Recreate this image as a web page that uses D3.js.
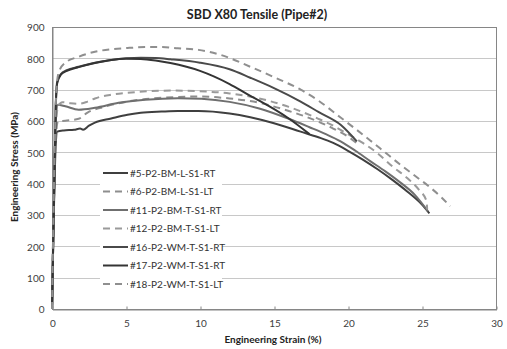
<!DOCTYPE html>
<html>
<head>
<meta charset="utf-8">
<script src="https://cdn.jsdelivr.net/npm/d3@7"></script>
<style>
  html, body { margin: 0; padding: 0; background: #fff; }
  svg { display: block; }
  text { font-family: Lato, "Open Sans", sans-serif; }
</style>
</head>
<body>
<div id="chart"></div>
<script>
// Tensile curves, strain (%) vs engineering stress (MPa)
const seriesNames = [
  "#5-P2-BM-L-S1-RT", "#6-P2-BM-L-S1-LT", "#11-P2-BM-T-S1-RT", "#12-P2-BM-T-S1-LT",
  "#16-P2-WM-T-S1-RT", "#17-P2-WM-T-S1-RT", "#18-P2-WM-T-S1-LT"
];

const s5 = [[0,0],[0.25,520],[0.35,566],[0.8,570],[1.5,572],[1.9,576],[2.1,572],[2.5,585],[2.9,595],[4,608],[5.1,620],[6,626],[7.4,630],[8.5,632],[9.9,632],[12,624],[13.4,612],[15,593],[16.8,566],[18,548],[19,530],[20,505],[21,477],[22,446],[23,412],[24,375],[25,333],[25.5,305]];
const s6 = [[0,0],[0.25,540],[0.4,598],[0.9,601],[1.8,607],[2.4,627],[3.6,646],[5.1,662],[7.4,674],[9.9,678],[12,672],[14,658],[16,632],[18,598],[19,576],[20,550],[20.8,522]];
const s11 = [[0,0],[0.25,590],[0.4,652],[0.9,647],[1.8,636],[2.9,642],[4.5,658],[6.3,668],[8.5,673],[10.1,671],[12,661],[14,640],[16,607],[17.4,580],[18.5,558],[19.5,535],[20.5,505],[21.5,472],[22.5,440],[23.5,405],[24.5,365],[25.4,312]];
const s12 = [[0,0],[0.25,590],[0.45,650],[0.7,660],[1.2,657],[1.8,655],[2.4,662],[2.9,672],[4,684],[5.1,690],[6.5,695],[8.1,697],[9.9,695],[12,688],[14,672],[16,645],[18,607],[19,585],[20,558],[21,530],[22,497],[23,455],[24,418],[24.8,380],[25.3,345],[25.35,318]];
const s16 = [[0,0],[0.25,650],[0.35,725],[0.6,750],[1,762],[1.8,773],[2.9,786],[4,795],[5,800],[6,802],[7,801],[8,797],[10,786],[12,765],[13.4,738],[15,705],[16.8,662],[18,629],[19.5,588],[20.6,535]];
const s17 = [[0,0],[0.25,640],[0.35,720],[0.6,748],[1,760],[1.8,772],[2.9,785],[4,795],[5,799],[6,798],[7,793],[8,785],[10,760],[12,718],[13.4,680],[14,665],[16,608],[17.4,558]];
const s18 = [[0,0],[0.3,700],[0.45,755],[0.9,786],[1.8,805],[2.9,821],[4,829],[5.1,833],[6.5,836],[7.4,836],[8.5,832],[9.9,827],[11.4,811],[13.4,773],[15,740],[16.8,700],[18,665],[19.5,611],[20.5,575],[21.5,538],[22.5,500],[23.5,462],[24.5,426],[25.5,390],[26.3,357],[26.9,328]];

const seriesValues = [s5, s6, s11, s12, s16, s17, s18];
const seriesColors = ["#3f3f3f", "#8e8e8e", "#6f6f6f", "#9a9a9a", "#4a4a4a", "#343434", "#8f8f8f"];
const seriesDashed = [false, true, false, true, false, false, true];

const xTicks = [0, 5, 10, 15, 20, 25, 30];
const yTicks = [0, 100, 200, 300, 400, 500, 600, 700, 800, 900];

const W = 507, H = 349;
const plot = { left: 52, right: 496, top: 27, bottom: 309 };

const svg = d3.select("#chart").append("svg").attr("width", W).attr("height", H);

const x = d3.scaleLinear().domain([0, 30]).range([plot.left, plot.right]);
const y = d3.scaleLinear().domain([0, 900]).range([plot.bottom, plot.top]);

// horizontal gridlines
svg.append("g").selectAll("line").data(yTicks.slice(1, -1)).join("line")
  .attr("x1", plot.left).attr("x2", plot.right)
  .attr("y1", d => Math.round(y(d)) + 0.5).attr("y2", d => Math.round(y(d)) + 0.5)
  .attr("stroke", "#c8c8c8").attr("stroke-width", 1);

// plot frame
svg.append("rect")
  .attr("x", plot.left + 0.5).attr("y", plot.top + 0.5)
  .attr("width", plot.right - plot.left).attr("height", plot.bottom - plot.top)
  .attr("fill", "none").attr("stroke", "#868686").attr("stroke-width", 1);

// y axis
const yAxis = svg.append("g").attr("transform", `translate(${plot.left + 0.5},0.5)`)
  .call(d3.axisLeft(y).tickValues(yTicks).tickSize(0).tickPadding(8));
yAxis.select(".domain").attr("stroke", "#868686");
yAxis.selectAll("text").attr("font-size", 10).attr("fill", "#404040")
  .attr("font-family", "Lato, sans-serif");

// x axis, ticks pointing up into the plot
const xAxis = svg.append("g").attr("transform", `translate(0.5,${plot.bottom + 0.5})`)
  .call(d3.axisBottom(x).tickValues(xTicks).tickSizeInner(-3).tickSizeOuter(0).tickPadding(10));
xAxis.select(".domain").attr("stroke", "#868686");
xAxis.selectAll(".tick line").attr("stroke", "#868686");
xAxis.selectAll("text").attr("font-size", 10).attr("fill", "#404040")
  .attr("font-family", "Lato, sans-serif");

// curves
const line = d3.line().x(d => x(d[0])).y(d => y(d[1])).curve(d3.curveMonotoneX);
svg.append("g").selectAll("path").data(seriesValues).join("path")
  .attr("d", line)
  .attr("fill", "none")
  .attr("stroke", (d, i) => seriesColors[i])
  .attr("stroke-width", 2)
  .attr("stroke-dasharray", (d, i) => seriesDashed[i] ? "7,5" : null)
  .attr("stroke-linejoin", "round");

// legend
const legend = svg.append("g");
legend.append("rect").attr("x", 100).attr("y", 163).attr("width", 122).attr("height", 128).attr("fill", "#fff");
const rowY = i => 173 + i * 18.5;
seriesNames.forEach((name, i) => {
  legend.append("line")
    .attr("x1", 103).attr("x2", 128)
    .attr("y1", rowY(i)).attr("y2", rowY(i))
    .attr("stroke", seriesColors[i]).attr("stroke-width", 2)
    .attr("stroke-dasharray", seriesDashed[i] ? "7,5" : null);
  legend.append("text")
    .attr("x", 130).attr("y", rowY(i)).attr("dy", "0.35em")
    .attr("font-size", 10).attr("fill", "#333")
    .text(name);
});

// titles
svg.append("text").attr("x", 257).attr("y", 19).attr("text-anchor", "middle")
  .attr("font-size", 12.5).attr("font-weight", "bold").attr("fill", "#222")
  .text("SBD X80 Tensile (Pipe#2)");

svg.append("text").attr("x", 273).attr("y", 343).attr("text-anchor", "middle")
  .attr("font-size", 10).attr("font-weight", "bold").attr("fill", "#222")
  .text("Engineering Strain (%)");

svg.append("text").attr("transform", `translate(18,167) rotate(-90)`).attr("text-anchor", "middle")
  .attr("font-size", 10).attr("font-weight", "bold").attr("fill", "#222")
  .text("Engineering Stress (MPa)");
</script>
</body>
</html>
